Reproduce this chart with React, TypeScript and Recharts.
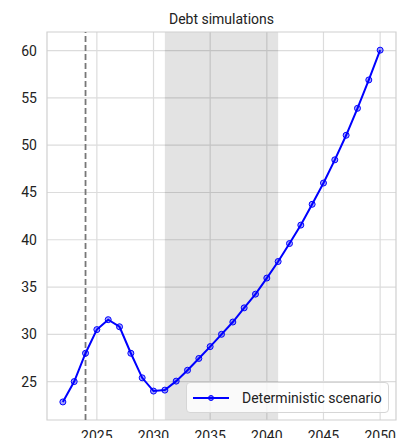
import React from 'react'
import { ComposedChart, Line, XAxis, YAxis, CartesianGrid, ReferenceArea, ReferenceLine } from 'recharts'

document.body.style.margin = '0'

const FONT = "Roboto, 'Noto Sans', sans-serif"

const YEARS = [2022, 2023, 2024, 2025, 2026, 2027, 2028, 2029, 2030, 2031, 2032, 2033, 2034, 2035, 2036,
  2037, 2038, 2039, 2040, 2041, 2042, 2043, 2044, 2045, 2046, 2047, 2048, 2049, 2050]
const DEBT = [22.85, 25.0, 28.0, 30.5, 31.55, 30.8, 28.0, 25.4, 24.0, 24.1, 25.05, 26.2, 27.45, 28.7, 30.0,
  31.3, 32.8, 34.25, 35.95, 37.7, 39.6, 41.55, 43.75, 46.0, 48.45, 51.05, 53.9, 56.9, 60.05]
const X_TICKS = [2025, 2030, 2035, 2040, 2045, 2050]
const Y_TICKS = [25, 30, 35, 40, 45, 50, 55, 60]
const X_DOMAIN: [number, number] = [2020.6, 2051.4]
const Y_DOMAIN: [number, number] = [20.94, 61.97]
const LAST_ACTUAL = 2024
const SPAN = [2031, 2041]
const SERIES_NAME = 'Deterministic scenario'

const data = YEARS.map((y, i) => ({ year: y, debt: DEBT[i] }))

// legend drawn by hand so it doesn't eat into the plot area
function LegendBox() {
  return (
    <div style={{
      position: 'absolute', left: 186, top: 382, width: 203, height: 31, boxSizing: 'border-box',
      background: 'rgba(255,255,255,0.8)', border: '1px solid #d6d6d6', borderRadius: 4,
      display: 'flex', alignItems: 'center', fontFamily: FONT, fontSize: 14, color: '#222',
    }}>
      <svg width={50} height={12} style={{ marginLeft: 5 }}>
        <line x1={1} x2={37} y1={6} y2={6} stroke="#0000ff" strokeWidth={2} />
        <circle cx={19} cy={6} r={2.5} fill="#0000ff" fillOpacity={0.5} stroke="#0000ff" strokeWidth={1} />
      </svg>
      <span>{SERIES_NAME}</span>
    </div>
  )
}

export default function App() {
  return (
    <div style={{ position: 'relative', width: 400, height: 438, overflow: 'hidden', background: '#fff' }}>
      <div style={{
        position: 'absolute', left: 47, width: 349, top: 11, textAlign: 'center',
        fontFamily: FONT, fontSize: 14, color: '#222',
      }}>Debt simulations</div>
      <ComposedChart width={400} height={438} data={data} margin={{ top: 32, right: 4, bottom: 0, left: 0 }}>
        <CartesianGrid stroke="#dcdcdc" strokeWidth={1.2} horizontalValues={Y_TICKS} verticalValues={X_TICKS} />
        <ReferenceArea x1={SPAN[0]} x2={SPAN[1]} fill="#000" fillOpacity={0.11} stroke="none" ifOverflow="hidden" />
        <ReferenceArea x1={X_DOMAIN[0]} x2={X_DOMAIN[1]} y1={Y_DOMAIN[0]} y2={Y_DOMAIN[1]}
          fill="none" stroke="#d0d0d0" strokeWidth={1.2} ifOverflow="extendDomain" />
        <XAxis dataKey="year" type="number" domain={X_DOMAIN} ticks={X_TICKS} allowDataOverflow
          height={18} axisLine={false} tickLine={false} tickSize={0} tickMargin={11}
          tick={{ fontFamily: FONT, fontSize: 14, fill: '#222' }} />
        <YAxis type="number" domain={Y_DOMAIN} ticks={Y_TICKS} allowDataOverflow width={47}
          axisLine={false} tickLine={false} tickSize={0} tickMargin={10}
          tick={{ fontFamily: FONT, fontSize: 14, fill: '#222' }} />
        <ReferenceLine x={LAST_ACTUAL} stroke="#777" strokeWidth={1.8} strokeDasharray="6 3" />
        <Line dataKey="debt" name={SERIES_NAME} stroke="#0000ff" strokeWidth={2} isAnimationActive={false}
          dot={{ r: 3, fill: '#0000ff', fillOpacity: 0.35, stroke: '#0000ff', strokeWidth: 1 }} />
      </ComposedChart>
      <LegendBox />
    </div>
  )
}
